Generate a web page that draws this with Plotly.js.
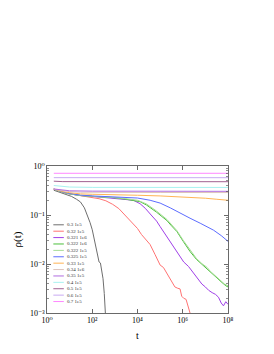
<!DOCTYPE html>
<html>
<head>
<meta charset="utf-8">
<script src="https://cdn.plot.ly/plotly-3.0.1.min.js"></script>
<style>html,body{margin:0;padding:0;background:#fff;}#chart{width:274px;height:354px;}</style>
</head>
<body>
<div id="chart"></div>
<script>
// ---- data ----
const labels = ['0.3 1e5','0.32 1e5','0.321 1e6','0.322 1e6','0.322 1e5','0.325 1e5','0.33 1e5','0.34 1e6','0.35 1e5','0.4 1e5','0.5 1e5','0.6 1e5','0.7 1e5'];

const t_030 = [2,3,5,8,12,20,30,45,60,80,100,120,150,180,200,230,260,300,340,380];
const r_030 = [0.32,0.30,0.28,0.26,0.24,0.21,0.185,0.14,0.1,0.07,0.05,0.033,0.02,0.012,0.011,0.0105,0.008,0.005,0.0025,0.001];

const t_032 = [2,3,5,10,20,50,100,200,400,800,1500,2500,4000,6600,1e4,1.5e4,2.5e4,3.6e4,6e4,1e5,1.4e5,2e5,2.6e5,3.3e5,4.5e5,6e5,7.6e5,9e5,1.1e6,1.4e6,1.7e6,2.1e6];
const r_032 = [0.335,0.31,0.29,0.27,0.255,0.24,0.23,0.215,0.195,0.165,0.135,0.105,0.085,0.066,0.053,0.04,0.031,0.025,0.0155,0.0095,0.0085,0.0065,0.0052,0.0042,0.0034,0.0032,0.0031,0.0022,0.0020,0.0019,0.0013,0.001];

const t_0321 = [2,5,10,30,100,300,1000,3000,6600,1.3e4,2.2e4,4e4,7e4,1e5,1.4e5,2e5,2.8e5,4e5,5.5e5,8e5,1.1e6,1.8e6,2.6e6,3.5e6,5e6,7e6,1e7,1.4e7,2e7,2.8e7,3.8e7,5e7,6.3e7,8e7,1e8];
const r_0321 = [0.335,0.29,0.27,0.25,0.24,0.23,0.22,0.21,0.2,0.17,0.137,0.1,0.075,0.058,0.046,0.036,0.029,0.022,0.018,0.0135,0.011,0.0089,0.0072,0.006,0.0047,0.0039,0.0034,0.0029,0.0026,0.0024,0.0021,0.0016,0.0014,0.0017,0.0015];

const t_0322a = [2,5,10,30,100,300,1000,3000,1e4,1.3e4,2.5e4,4e4,7e4,1.2e5,2e5,3e5,5.5e5,1.07e6,2.1e6,4e6,7e6,1.2e7,2e7,3.5e7,5.4e7,8e7,1e8];
const r_0322a = [0.335,0.29,0.27,0.25,0.24,0.235,0.225,0.21,0.195,0.187,0.16,0.138,0.114,0.093,0.077,0.062,0.046,0.0286,0.018,0.0125,0.0098,0.0077,0.0064,0.005,0.0042,0.0036,0.0034];

const t_0322b = [2,5,10,30,100,300,1000,3000,1e4,2.5e4,7e4,2e5,5.5e5,1.07e6,2.1e6,4e6,7e6,1e7,1.2e7,1.6e7,2e7,3.5e7,5e7,7e7,1e8];
const r_0322b = [0.335,0.29,0.27,0.25,0.24,0.235,0.226,0.215,0.2,0.168,0.12,0.081,0.048,0.03,0.019,0.013,0.0102,0.0092,0.0085,0.0072,0.0066,0.0053,0.0046,0.0039,0.0036];

const t_0325 = [2,5,10,30,100,300,1000,3000,1e4,3.6e4,1e5,2.8e5,6e5,1e6,2.1e6,5.9e6,1e7,2.3e7,5e7,1e8];
const r_0325 = [0.34,0.295,0.275,0.255,0.245,0.24,0.235,0.232,0.222,0.2,0.175,0.14,0.115,0.103,0.086,0.068,0.06,0.049,0.038,0.029];

const t_033 = [2,5,10,30,100,300,1000,1e4,1e5,1e6,1e7,3e7,1e8];
const r_033 = [0.34,0.3,0.285,0.27,0.265,0.26,0.258,0.253,0.245,0.235,0.22,0.21,0.2];

const t_034 = [2,5,10,30,100,1000,1e5,1e8];
const r_034 = [0.335,0.31,0.3,0.292,0.29,0.289,0.288,0.287];

const t_035 = [2,5,10,100,1e4,1e8];
const r_035 = [0.34,0.32,0.312,0.307,0.305,0.304];

const t_040 = [2,5,10,100,1e8];
const r_040 = [0.40,0.38,0.372,0.366,0.365];

const t_050 = [2,5,1e8];
const r_050 = [0.49,0.48,0.478];

const t_060 = [2,1e8];
const r_060 = [0.578,0.577];

const t_070 = [2,1e8];
const r_070 = [0.71,0.71];

const xTickVals = [1,100,1e4,1e6,1e8];
const xTickText = ['10⁰','10²','10⁴','10⁶','10⁸'];
const yTickVals = [0.001,0.01,0.1,1];
const yTickText = ['10⁻³','10⁻²','10⁻¹','10⁰'];

// ---- styles ----
const colors = ['#6e6e6e','#ff7373','#a040e8','#4cbf3c','#a6dc96','#5c6cff','#ffb454','#dcc4bc','#b06ce0','#a8f2f0','#a06090','#c8aaf2','#ff88ff'];

const seriesT = [t_030,t_032,t_0321,t_0322a,t_0322b,t_0325,t_033,t_034,t_035,t_040,t_050,t_060,t_070];
const seriesR = [r_030,r_032,r_0321,r_0322a,r_0322b,r_0325,r_033,r_034,r_035,r_040,r_050,r_060,r_070];

const serif = 'Liberation Serif, DejaVu Serif, serif';

const traces = labels.map((name, i) => ({
  x: seriesT[i], y: seriesR[i], name: name, type: 'scatter', mode: 'lines',
  line: {color: colors[i], width: 1}, hoverinfo: 'skip'
}));

// legend drawn compactly (paper coordinates within the plot box)
const L = {x0: 0.035, x1: 0.093, xt: 0.105, y0: 0.60, dy: 0.0435};
const shapes = [];
const annotations = [];
labels.forEach((name, i) => {
  const yy = L.y0 - i * L.dy;
  shapes.push({type: 'line', xref: 'paper', yref: 'paper', x0: L.x0, x1: L.x1, y0: yy, y1: yy,
               line: {color: colors[i], width: 1}});
  annotations.push({xref: 'paper', yref: 'paper', x: L.xt, y: yy, xanchor: 'left', yanchor: 'middle',
                    text: name, showarrow: false, borderpad: 0,
                    font: {family: serif, size: 5, color: '#333'}});
});

const layout = {
  width: 274, height: 354,
  margin: {l: 47, r: 46, t: 166, b: 41},
  paper_bgcolor: '#fff', plot_bgcolor: '#fff',
  showlegend: false,
  font: {family: serif, color: '#000'},
  xaxis: {
    type: 'log', range: [0, 8], tickmode: 'array', tickvals: xTickVals, ticktext: xTickText,
    ticks: 'inside', ticklen: 4, tickwidth: 0.8, tickcolor: '#444',
    showline: true, linecolor: '#444', linewidth: 0.8, mirror: 'ticks',
    showgrid: false, zeroline: false,
    tickfont: {family: serif, size: 8, color: '#000'},
    title: {text: 't', font: {family: serif, size: 10, color: '#000'}, standoff: 7}
  },
  yaxis: {
    type: 'log', range: [-3, 0], tickmode: 'array', tickvals: yTickVals, ticktext: yTickText,
    ticks: 'inside', ticklen: 4, tickwidth: 0.8, tickcolor: '#444',
    minor: {ticks: 'inside', ticklen: 2, tickcolor: '#444', tickwidth: 0.6,
            tickmode: 'array',
            tickvals: [0.002,0.003,0.004,0.005,0.006,0.007,0.008,0.009,0.02,0.03,0.04,0.05,0.06,0.07,0.08,0.09,0.2,0.3,0.4,0.5,0.6,0.7,0.8,0.9]},
    showline: true, linecolor: '#444', linewidth: 0.8, mirror: 'ticks',
    showgrid: false, zeroline: false,
    tickfont: {family: serif, size: 8, color: '#000'},
    title: {text: 'ρ(t)', font: {family: serif, size: 11, color: '#000'}, standoff: 6}
  },
  shapes: shapes,
  annotations: annotations
};

Plotly.newPlot('chart', traces, layout, {staticPlot: true, displayModeBar: false});
</script>
</body>
</html>
